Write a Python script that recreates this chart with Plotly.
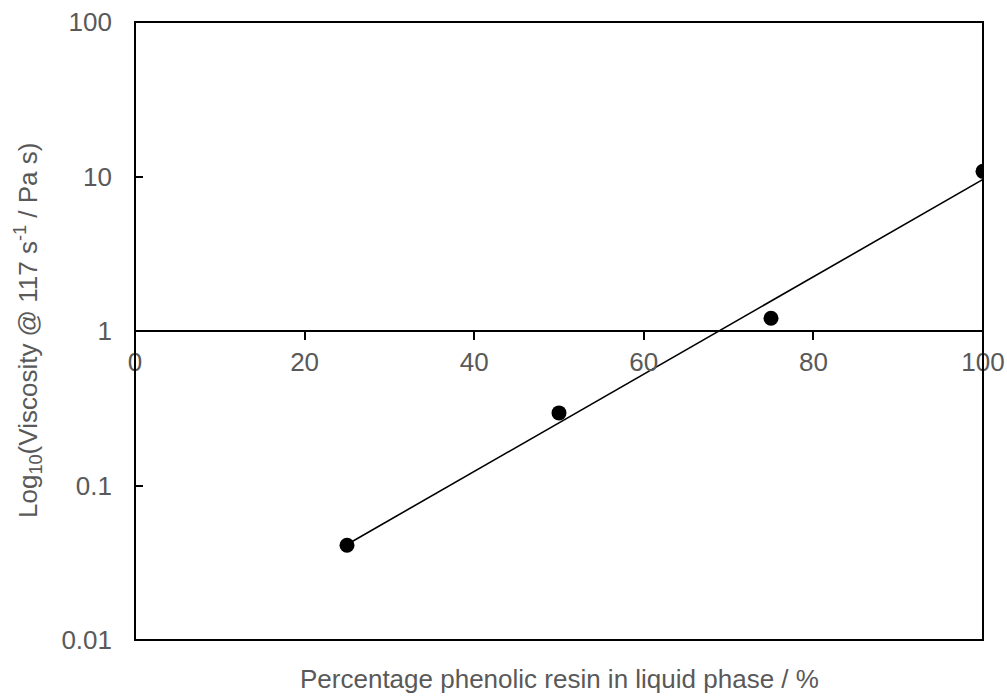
import numpy as np
import plotly.graph_objects as go

# Data
x_pct = [25, 50, 75, 100]
viscosity = [0.041, 0.295, 1.21, 10.8]

x_ticks = [0, 20, 40, 60, 80, 100]
y_ticks = [0.01, 0.1, 1, 10, 100]
y_ticktext = ["0.01", "0.1", "1", "10", "100"]

x_title = "Percentage phenolic resin in liquid phase / %"
y_title = "Log<sub>10</sub>(Viscosity @ 117 s<sup>-1</sup> / Pa s)"

# Exponential trendline (linear fit on log10 of the values)
coef = np.polyfit(x_pct, np.log10(viscosity), 1)
trend_x = [min(x_pct), max(x_pct)]
trend_y = [10 ** np.polyval(coef, v) for v in trend_x]

FONT = "Liberation Sans, Arial, sans-serif"
GREY = "#595959"
FS = 26

fig = go.Figure()
fig.add_trace(go.Scatter(x=trend_x, y=trend_y, mode="lines",
                         line=dict(color="black", width=1.6),
                         showlegend=False, hoverinfo="skip"))
fig.add_trace(go.Scatter(x=x_pct, y=viscosity, mode="markers",
                         marker=dict(color="black", size=15),
                         showlegend=False))

fig.update_layout(
    width=1007, height=697,
    margin=dict(l=135, r=24, t=22, b=57),
    paper_bgcolor="white", plot_bgcolor="white",
    font=dict(family=FONT, size=FS, color=GREY),
    xaxis=dict(range=[0, 100], tickvals=x_ticks, showgrid=False, zeroline=False,
               anchor="free", position=0.5, showline=True, linecolor="black",
               linewidth=1.5, ticks="outside", ticklen=8, tickwidth=1.5,
               tickcolor="black", ticklabelstandoff=0, automargin=False,
               ticklabeloverflow="allow",
               tickfont=dict(size=FS, color=GREY)),
    xaxis2=dict(range=[0, 100], tickvals=x_ticks, showgrid=False, zeroline=False,
                overlaying="x", anchor="free", position=0.5, showline=False,
                ticks="inside", ticklen=8, tickwidth=1.5, tickcolor="black",
                showticklabels=False, automargin=False),
    yaxis=dict(type="log", range=[-2, 2], tickvals=y_ticks, ticktext=y_ticktext,
               showgrid=False, zeroline=False, showline=False,
               ticks="inside", ticklen=8, tickwidth=1.5, tickcolor="black",
               ticklabelstandoff=22, tickfont=dict(size=FS, color=GREY),
               ticklabeloverflow="allow", automargin=False),
    shapes=[dict(type="rect", xref="paper", yref="paper", x0=0, x1=1, y0=0, y1=1,
                 line=dict(color="black", width=2), layer="above")],
    annotations=[
        dict(text=x_title, xref="paper", yref="paper", x=0.5, y=0,
             xanchor="center", yanchor="top", yshift=-22, showarrow=False,
             font=dict(size=FS, color=GREY)),
        dict(text=y_title, xref="paper", yref="paper", x=0, y=0.5,
             xanchor="center", yanchor="middle", xshift=-107, textangle=-90,
             showarrow=False, font=dict(size=FS, color=GREY)),
    ],
)

fig.write_html(
    "out.html",
    config={"displayModeBar": False},
    post_script="document.body.style.margin='0';document.body.style.overflow='hidden';",
)
